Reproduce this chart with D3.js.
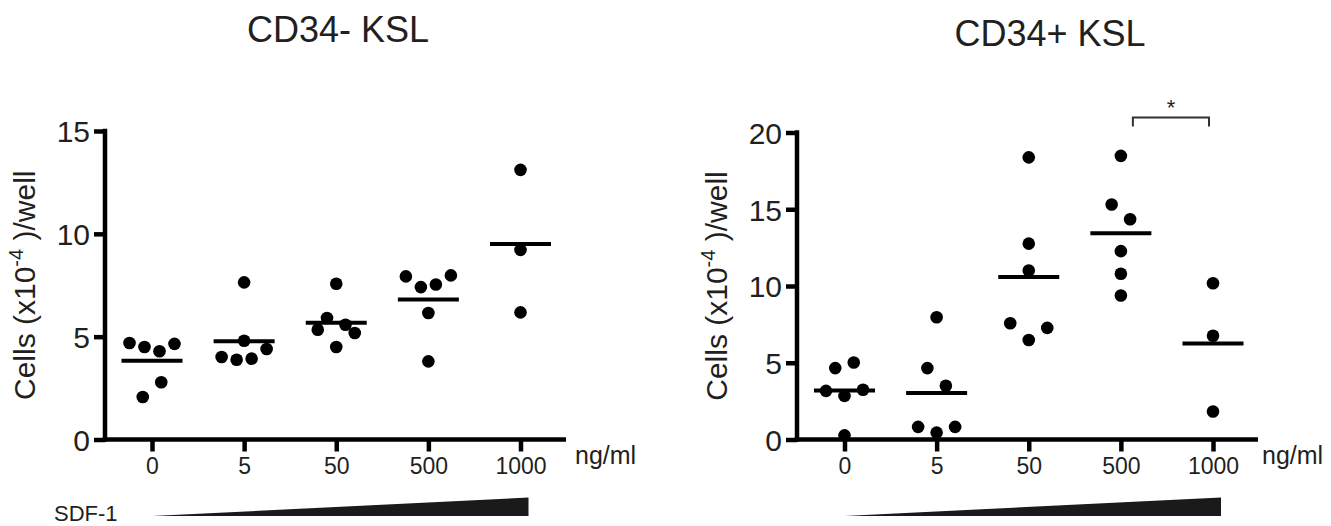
<!DOCTYPE html>
<html><head><meta charset="utf-8">
<script src="https://cdn.jsdelivr.net/npm/d3@7"></script>
<style>body{margin:0;background:#fff}</style>
</head><body>
<svg id="chart" width="1331" height="526"></svg>
<script>
// ---- data ----
const categories = ["0", "5", "50", "500", "1000"];
const unitLabel = "ng/ml";
const rampLabel = "SDF-1";
const yLabelMain = "Cells (x10";
const yLabelSup = "-4";
const yLabelEnd = " )/well";
const leftTitle = "CD34- KSL";
const rightTitle = "CD34+ KSL";
const leftTicks = [0, 5, 10, 15];
const rightTicks = [0, 5, 10, 15, 20];
// CD34- KSL, one array per SDF-1 dose (data order)
const left0 = [4.69, 4.50, 4.29, 4.65, 2.07, 2.78];
const left5 = [7.64, 4.80, 4.01, 3.88, 3.93, 4.40];
const left50 = [7.57, 5.91, 5.58, 5.34, 4.50, 5.18];
const left500 = [7.93, 7.41, 7.54, 7.98, 6.15, 3.80];
const left1000 = [13.11, 9.22, 6.18];
// CD34+ KSL
const right0 = [4.65, 5.02, 3.17, 2.84, 3.24, 0.27];
const right5 = [7.96, 4.65, 3.50, 0.82, 0.45, 0.82];
const right50 = [18.38, 12.76, 11.01, 7.57, 6.48, 7.27];
const right500 = [18.48, 15.31, 14.35, 12.27, 10.80, 9.38];
const right1000 = [10.18, 6.76, 1.82];
const sigPair = ["500", "1000"];
const sigLabel = "*";

// ---- layout ----
const FONT = "'Liberation Sans', Arial, Helvetica, sans-serif";
const TXT = "#231f20";
const svg = d3.select("#chart");

const panels = [
  { title: leftTitle, groups: [left0, left5, left50, left500, left1000], ticks: leftTicks, yMax: 15,
    axisX: 105, x0: 152, x1: 520.5, axisEnd: 566, unitX: 575, yTop: 131, yBottom: 439.5,
    titleX: 338, titleY: 42, labelX: 35, sig: false, ramp: true },
  { title: rightTitle, groups: [right0, right5, right50, right500, right1000], ticks: rightTicks, yMax: 20,
    axisX: 797, x0: 844.5, x1: 1213, axisEnd: 1258, unitX: 1262, yTop: 132.5, yBottom: 439.5,
    titleX: 1050, titleY: 46, labelX: 727, sig: true, ramp: false }
];

function swarm(vals, y) {
  const idx = vals.map((v, i) => i).sort((a, b) => vals[a] - vals[b]);
  const rows = []; let cur = null;
  idx.forEach(i => {
    const py = y(vals[i]);
    if (cur && Math.abs(cur.anchor - py) < 18) cur.members.push(i);
    else { cur = { anchor: py, members: [i] }; rows.push(cur); }
  });
  const off = new Array(vals.length).fill(0);
  rows.forEach(r => {
    r.members.sort((a, b) => a - b);
    const n = r.members.length, s = n >= 4 ? 15 : 18.5;
    r.members.forEach((i, k) => off[i] = (k - (n - 1) / 2) * s);
  });
  return off;
}

panels.forEach(p => {
  const x = d3.scalePoint().domain(categories).range([p.x0, p.x1]);
  const y = d3.scaleLinear().domain([0, p.yMax]).range([p.yBottom, p.yTop]);
  const g = svg.append("g");

  // title
  g.append("text").attr("x", p.titleX).attr("y", p.titleY).attr("text-anchor", "middle")
    .attr("font-family", FONT).attr("font-size", 36).attr("fill", TXT).text(p.title);

  // y axis ticks
  const ya = d3.axisLeft(y).tickValues(p.ticks).tickSize(11).tickSizeOuter(0).tickFormat(d3.format("d"));
  const yg = g.append("g").attr("transform", `translate(${p.axisX},0)`).call(ya);
  yg.select(".domain").remove();
  yg.selectAll(".tick line").attr("stroke", "#000").attr("stroke-width", 4.5);
  yg.selectAll(".tick text").attr("x", -15).attr("dy", "0.36em").attr("font-family", FONT)
    .attr("font-size", 30).attr("fill", TXT);

  // x axis ticks
  const xa = d3.axisBottom(x).tickSize(12).tickSizeOuter(0);
  const xg = g.append("g").attr("transform", `translate(0,${p.yBottom})`).call(xa);
  xg.select(".domain").remove();
  xg.selectAll(".tick line").attr("stroke", "#000").attr("stroke-width", 4.5);
  xg.selectAll(".tick text").attr("y", 34).attr("dy", 0).attr("font-family", FONT)
    .attr("font-size", 23).attr("fill", TXT);

  // axis lines
  g.append("line").attr("x1", p.axisX).attr("x2", p.axisX).attr("y1", p.yTop - 2.25).attr("y2", p.yBottom + 2.25)
    .attr("stroke", "#000").attr("stroke-width", 4.5);
  g.append("line").attr("x1", p.axisX - 2.25).attr("x2", p.axisEnd).attr("y1", p.yBottom).attr("y2", p.yBottom)
    .attr("stroke", "#000").attr("stroke-width", 4.5);

  // unit label
  g.append("text").attr("x", p.unitX).attr("y", p.yBottom + 24).attr("font-family", FONT)
    .attr("font-size", 25).attr("fill", TXT).text(unitLabel);

  // y label
  const yl = g.append("text").attr("transform", `translate(${p.labelX},${(p.yTop + p.yBottom) / 2}) rotate(-90)`)
    .attr("text-anchor", "middle").attr("font-family", FONT).attr("font-size", 30).attr("fill", TXT);
  yl.append("tspan").text(yLabelMain);
  yl.append("tspan").attr("font-size", 20).attr("dy", -12).text(yLabelSup);
  yl.append("tspan").attr("dy", 12).text(yLabelEnd);

  // points and means
  p.groups.forEach((vals, gi) => {
    const cx = x(categories[gi]);
    const off = swarm(vals, y);
    g.selectAll(null).data(vals).enter().append("circle")
      .attr("cx", (d, i) => cx + off[i]).attr("cy", d => y(d)).attr("r", 6.3).attr("fill", "#000");
    const m = d3.mean(vals);
    g.append("line").attr("x1", cx - 30.5).attr("x2", cx + 30.5).attr("y1", y(m)).attr("y2", y(m))
      .attr("stroke", "#000").attr("stroke-width", 4);
  });

  // significance bracket
  if (p.sig) {
    const bx1 = x(sigPair[0]) + 12, bx2 = x(sigPair[1]) - 4;
    g.append("path").attr("d", `M${bx1},126.5V117.5H${bx2}V126.5`).attr("fill", "none")
      .attr("stroke", "#333").attr("stroke-width", 2);
    g.append("text").attr("x", (bx1 + bx2) / 2).attr("y", 115).attr("text-anchor", "middle")
      .attr("font-family", FONT).attr("font-size", 22).attr("fill", TXT).text(sigLabel);
  }

  // SDF-1 ramp
  const rx0 = x(categories[0]), rx1 = x(categories[categories.length - 1]) + 8;
  g.append("path").attr("d", `M${rx0},516L${rx1},516L${rx1},497.5Z`).attr("fill", "#1a1a1a");
  if (p.ramp) {
    g.append("text").attr("x", 54).attr("y", 521).attr("font-family", FONT).attr("font-size", 22)
      .attr("fill", TXT).text(rampLabel);
  }
});
</script>
</body></html>
